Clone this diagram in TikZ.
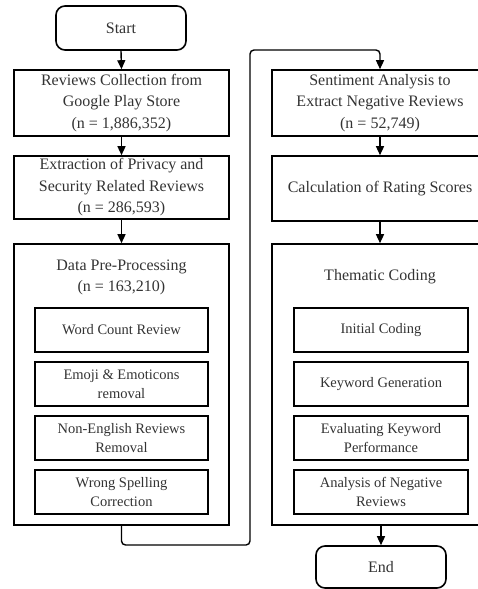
\documentclass[tikz,border=0pt]{standalone}
\usepackage{fontspec}
\setmainfont{Liberation Serif}
\usetikzlibrary{arrows.meta,positioning}
\begin{document}
\begin{tikzpicture}[x=1pt,y=-1pt,
  box/.style={draw,line width=1.6pt,rectangle,align=center,inner sep=0pt,text=black!80,
    font=\fontsize{16}{21.5}\selectfont},
  bigbox/.style={box,minimum width=215pt},
  sub/.style={draw,line width=1.3pt,rectangle,align=center,inner sep=0pt,text=black!80,
    minimum width=173pt,minimum height=44pt,font=\fontsize{14.5}{19}\selectfont},
  term/.style={box,rounded corners=9pt,minimum width=130pt},
  title/.style={align=center,inner sep=0pt,text=black!80,font=\fontsize{16}{21.5}\selectfont},
  conn/.style={line width=1.4pt,-{Triangle[length=9pt,width=8pt]}}
]
\useasboundingbox (0,0) rectangle (478,589);
% left column
\node[term,minimum height=44pt] (start) at (121,28) {Start};
\node[bigbox,minimum height=66pt] (rev) at (121.5,103) {Reviews Collection from\\Google Play Store\\(n = 1,886,352)};
\node[bigbox,minimum height=63pt] (ext) at (121.5,187.5) {Extraction of Privacy and\\Security Related Reviews\\(n = 286,593)};
\node[bigbox,minimum height=281pt] (pre) at (121.5,384.5) {};
\node[title] (pret) at (121.5,277.5) {Data Pre-Processing\\(n = 163,210)};
\node[sub] (p1) at (121.5,330) {Word Count Review};
\node[sub] (p2) at (121.5,384) {Emoji \& Emoticons\\removal};
\node[sub] (p3) at (121.5,438) {Non-English Reviews\\Removal};
\node[sub] (p4) at (121.5,492) {Wrong Spelling\\Correction};
% right column
\node[bigbox,minimum width=216pt,minimum height=66pt] (sen) at (380,103) {Sentiment Analysis to\\Extract Negative Reviews\\(n = 52,749)};
\node[bigbox,minimum width=216pt,minimum height=65pt] (calc) at (380,188.5) {Calculation of Rating Scores};
\node[bigbox,minimum width=216pt,minimum height=281pt] (them) at (380,384.5) {};
\node[title] (themt) at (380,277) {Thematic Coding};
\node[sub,minimum width=174pt] (t1) at (381,330) {Initial Coding};
\node[sub,minimum width=174pt] (t2) at (381,384) {Keyword Generation};
\node[sub,minimum width=174pt] (t3) at (381,438) {Evaluating Keyword\\Performance};
\node[sub,minimum width=174pt] (t4) at (381,492) {Analysis of Negative\\Reviews};
\node[term,minimum height=42pt] (end) at (381,567) {End};
% connectors
\draw[conn] (start.south) -- (rev.north);
\draw[conn] (rev.south) -- (ext.north);
\draw[conn] (ext.south) -- (pre.north);
\coordinate (c1) at (121.5,545);
\coordinate (c2) at (250,545);
\coordinate (c3) at (250,50);
\coordinate (c4) at (380,50);
\draw[conn,rounded corners=4pt] (pre.south) -- (c1) -- (c2) -- (c3) -- (c4) -- (sen.north);
\draw[conn] (sen.south) -- (calc.north);
\draw[conn] (calc.south) -- (them.north);
\draw[conn] (them.south -| end.north) -- (end.north);
\end{tikzpicture}
\end{document}
